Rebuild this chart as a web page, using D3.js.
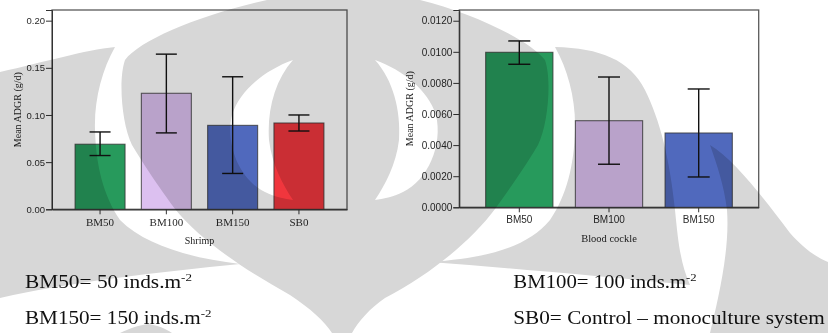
<!DOCTYPE html>
<html><head><meta charset="utf-8">
<script src="https://cdn.jsdelivr.net/npm/d3@7"></script>
<style>
html,body{margin:0;padding:0;background:#fff;}
svg{display:block;}
</style></head>
<body>
<svg id="c" width="828" height="333"></svg>
<script>
// ---------- data ----------
const shrimpCats = ["BM50", "BM100", "BM150", "SB0"];
const shrimpMean = [0.069, 0.123, 0.089, 0.0915];
const shrimpLow  = [0.057, 0.081, 0.038, 0.083];
const shrimpHigh = [0.082, 0.1645, 0.1405, 0.100];
const shrimpTicks = [0, 0.05, 0.10, 0.15, 0.20];

const cockleCats = ["BM50", "BM100", "BM150"];
const cockleMean = [0.00997, 0.00557, 0.00478];
const cockleLow  = [0.0092, 0.00277, 0.00195];
const cockleHigh = [0.0107, 0.00838, 0.00761];
const cockleTicks = [0, 0.002, 0.004, 0.006, 0.008, 0.010, 0.012];

const catColors = {BM50: "#279a5c", BM100: "#dcc0f0", BM150: "#5069bd", SB0: "#f0363d"};

const legendLines = [
  {main: "BM50= 50 inds.m", sup: "-2"},
  {main: "BM150= 150 inds.m", sup: "-2"},
  {main: "BM100= 100 inds.m", sup: "-2"},
  {main: "SB0= Control \u2013 monoculture system", sup: ""}
];

const svg = d3.select("#c");
svg.append("rect").attr("width", 828).attr("height", 333).attr("fill", "#fff");

function drawPanel(cfg) {
  const g = svg.append("g");
  const x = d3.scaleBand().domain(cfg.cats).range([cfg.left, cfg.right])
    .paddingInner(cfg.pin).paddingOuter(cfg.pout);
  const y = d3.scaleLinear().domain([0, cfg.ymax]).range([cfg.bottom, cfg.top]);

  g.append("rect").attr("x", cfg.left).attr("y", cfg.top)
    .attr("width", cfg.right - cfg.left).attr("height", cfg.bottom - cfg.top)
    .attr("fill", "none").attr("stroke", "#5a5a5a").attr("stroke-width", 1.3);

  g.selectAll("rect.bar").data(cfg.cats).enter().append("rect")
    .attr("class", "bar")
    .attr("x", d => x(d)).attr("width", x.bandwidth())
    .attr("y", (d, i) => y(cfg.mean[i]))
    .attr("height", (d, i) => y(0) - y(cfg.mean[i]))
    .attr("fill", d => catColors[d])
    .attr("stroke", "#333").attr("stroke-opacity", 0.75).attr("stroke-width", 1.1);

  const cap = cfg.cap;
  const eb = g.selectAll("g.eb").data(cfg.cats).enter().append("g").attr("class", "eb")
    .attr("stroke", "#111").attr("stroke-width", 1.4);
  eb.append("line")
    .attr("x1", d => x(d) + x.bandwidth() / 2).attr("x2", d => x(d) + x.bandwidth() / 2)
    .attr("y1", (d, i) => y(cfg.low[i])).attr("y2", (d, i) => y(cfg.high[i]));
  eb.append("line")
    .attr("x1", d => x(d) + x.bandwidth() / 2 - cap / 2).attr("x2", d => x(d) + x.bandwidth() / 2 + cap / 2)
    .attr("y1", (d, i) => y(cfg.low[i])).attr("y2", (d, i) => y(cfg.low[i]));
  eb.append("line")
    .attr("x1", d => x(d) + x.bandwidth() / 2 - cap / 2).attr("x2", d => x(d) + x.bandwidth() / 2 + cap / 2)
    .attr("y1", (d, i) => y(cfg.high[i])).attr("y2", (d, i) => y(cfg.high[i]));

  const ya = g.append("g").attr("transform", `translate(${cfg.left},0)`)
    .call(d3.axisLeft(y).tickValues(cfg.ticks).tickFormat(d3.format(cfg.fmt)).tickSize(6).tickPadding(1));
  ya.select(".domain").attr("stroke", "#333");
  ya.selectAll(".tick line").attr("stroke", "#333");
  ya.selectAll(".tick text").attr("font-family", "Liberation Sans, Arial, sans-serif")
    .attr("font-size", cfg.ytfs).attr("fill", "#2a2a2a");

  const xa = g.append("g").attr("transform", `translate(0,${cfg.bottom})`)
    .call(d3.axisBottom(x).tickSize(5).tickPadding(4).tickSizeOuter(0));
  xa.select(".domain").attr("stroke", "#333").attr("stroke-width", 1.3);
  xa.selectAll(".tick line").attr("stroke", "#333");
  xa.selectAll(".tick text").attr("font-family", cfg.xfont)
    .attr("font-size", cfg.xtfs).attr("fill", "#2a2a2a");

  g.append("text").attr("x", (cfg.left + cfg.right) / 2).attr("y", cfg.bottom + 35)
    .attr("text-anchor", "middle").attr("font-family", "Liberation Serif, Times New Roman, serif")
    .attr("font-size", cfg.xtitleFs).attr("fill", "#222").text(cfg.xtitle);
  g.append("text")
    .attr("transform", `translate(${cfg.ytitleX},${(cfg.top + cfg.bottom) / 2}) rotate(-90)`)
    .attr("text-anchor", "middle").attr("font-family", "Liberation Serif, Times New Roman, serif")
    .attr("font-size", 10).attr("fill", "#222").text("Mean ADGR (g/d)");
}

drawPanel({
  cats: shrimpCats, mean: shrimpMean, low: shrimpLow, high: shrimpHigh, ticks: shrimpTicks,
  left: 52, right: 347, top: 10, bottom: 209.3, ymax: 0.2113, pin: 0.246, pout: 0.348,
  cap: 21, fmt: ".2f", ytfs: 9.5, xfont: "Liberation Serif, Times New Roman, serif", xtfs: 11,
  xtitle: "Shrimp", xtitleFs: 10, ytitleX: 21
});
drawPanel({
  cats: cockleCats, mean: cockleMean, low: cockleLow, high: cockleHigh, ticks: cockleTicks,
  left: 459.3, right: 758.7, top: 10, bottom: 207.3, ymax: 0.01269, pin: 0.25, pout: 0.294,
  cap: 22, fmt: ".4f", ytfs: 10, xfont: "Liberation Sans, Arial, sans-serif", xtfs: 10,
  xtitle: "Blood cockle", xtitleFs: 10.5, ytitleX: 413
});

// ---------- legend text ----------
const legendPos = [
  {x: 25, y: 288.3, w: 167},
  {x: 25, y: 324, w: 186.7},
  {x: 513.3, y: 288.3, w: 183.4},
  {x: 513.3, y: 324, w: 311.7}
];
legendLines.forEach((l, i) => {
  const p = legendPos[i];
  const t = svg.append("text").attr("font-family", "Liberation Serif, Times New Roman, serif")
    .attr("font-size", 18).attr("fill", "#111");
  t.append("tspan").text(l.main);
  if (l.sup) t.append("tspan").attr("font-size", 11).attr("dy", -7).text(l.sup);
  const w = t.node().getComputedTextLength();
  t.attr("transform", `translate(${p.x},${p.y}) scale(${p.w / w},1)`);
});

// ---------- watermark (decorative background logo) ----------
const wmGrey = [
  "M0,72 C45,62 85,50 115,47 C102,70 94,100 95,130 C96,165 103,195 120,220 C145,245 190,258 240,264 C160,272 70,282 0,298 Z",
  "M267,0 C200,15 140,40 125,60 C118,80 122,125 132,145 C150,175 165,195 175,209 C200,240 245,270 290,295 C310,308 325,322 332,333 L352,333 C358,322 370,308 385,298 C430,275 472,240 495,209 C505,195 520,175 538,145 C548,125 552,80 545,60 C530,40 470,12 420,0 Z",
  "M555,47 C600,48 630,60 645,90 C660,120 670,160 675,210 C678,240 680,262 690,285 C600,276 510,268 430,262 C485,258 527,248 550,220 C567,195 574,165 575,130 C576,100 568,70 555,47 Z",
  "M710,145 C735,160 765,200 790,233 C805,250 818,258 828,262 L828,333 L710,333 C718,300 730,250 727,210 C724,185 717,165 710,145 Z",
  "M120,333 C130,328 140,325 148,324 C156,325 165,328 172,333 Z"
];
const wmWhite = [
  "M293,60 C265,70 240,90 232,115 C225,145 240,180 265,192 C275,197 285,199 293,200 C283,185 272,165 269,140 C267,110 275,80 293,60 Z",
  "M375,60 C403,70 428,90 436,115 C443,145 428,180 403,192 C393,197 383,199 375,200 C385,185 396,165 399,140 C401,110 393,80 375,60 Z"
];
const wm = svg.append("g").style("mix-blend-mode", "multiply").style("isolation", "isolate");
wm.selectAll("path.g").data(wmGrey).enter().append("path").attr("d", d => d).attr("fill", "#d7d7d7");
wm.selectAll("path.w").data(wmWhite).enter().append("path").attr("d", d => d).attr("fill", "#fff");
</script>
</body></html>
